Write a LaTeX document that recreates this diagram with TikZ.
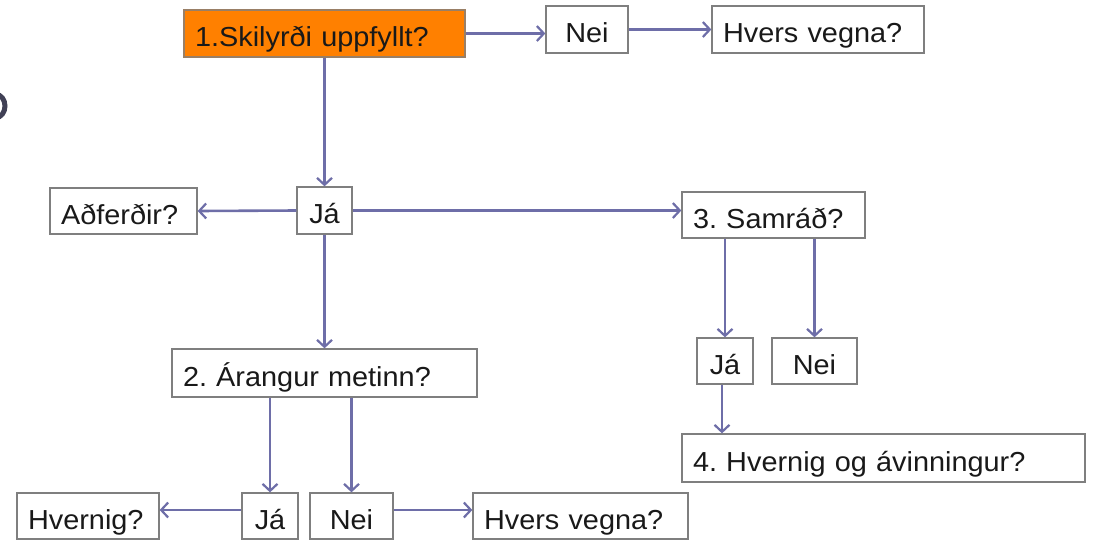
\documentclass[tikz,border=0pt]{standalone}
\usepackage{fontspec}
\setmainfont{Liberation Sans}[FakeStretch=1.05]
\usetikzlibrary{arrows.meta}
\definecolor{arrowc}{HTML}{6E6EA8}
\definecolor{boxc}{HTML}{7F7F7F}
\definecolor{orangec}{HTML}{FF8000}
\definecolor{fragc}{HTML}{404055}
\frenchspacing
\begin{document}
\begin{tikzpicture}[x=1pt,y=-1pt,
  box/.style={draw=boxc, line width=1.3pt, fill=white, inner xsep=11pt, inner ysep=0pt,
    font=\fontsize{27.5}{32}\selectfont, text=black!90, anchor=center, align=left,
    text height=26pt, text depth=0pt},
  cbox/.style={box, align=center, inner xsep=0pt},
  arr/.style={draw=arrowc, line width=2.6pt, -{Straight Barb[length=7pt,width=15pt,line width=2.2pt]}}]
\useasboundingbox (0,0) rectangle (1093,542);
% clipped fragment at left edge
\draw[fragc, line width=5pt] (-4,106) ellipse[x radius=9pt, y radius=11.5pt];
% nodes
\node[box, fill=orangec, draw=boxc!80!orangec, text width=259pt, minimum height=47pt] (n1) at (324.5,33.5) {1.Skilyrði uppfyllt?};
\node[cbox, text width=82pt, minimum height=47pt] (nei1) at (587,29.5) {Nei};
\node[box, text width=190pt, minimum height=47pt] (hv1) at (818,29.5) {Hvers vegna?};
\node[cbox, text width=55pt, minimum height=47pt] (ja1) at (324.5,210.5) {Já};
\node[box, text width=125pt, minimum height=46pt] (adf) at (123.5,211) {Aðferðir?};
\node[box, text width=161pt, minimum height=46pt] (sam) at (773.5,215) {3. Samráð?};
\node[cbox, text width=56pt, minimum height=46pt] (ja2) at (725,361) {Já};
\node[cbox, text width=85pt, minimum height=46pt] (nei2) at (814.5,361) {Nei};
\node[box, text width=283pt, minimum height=48pt] (arn) at (324.5,373) {2. Árangur metinn?};
\node[box, text width=381pt, minimum height=48pt] (hvao) at (883.5,458) {4. Hvernig og ávinningur?};
\node[cbox, text width=56pt, minimum height=46pt] (ja3) at (270,516) {Já};
\node[cbox, text width=83pt, minimum height=46pt] (nei3) at (351.5,516) {Nei};
\node[box, text width=120pt, minimum height=46pt] (hvn) at (88,516) {Hvernig?};
\node[box, text width=193pt, minimum height=46pt] (hv2) at (580.5,516) {Hvers vegna?};
% connectors
\draw[arr] (n1.east) -- (n1.east -| nei1.west);
\draw[arr] (nei1.east) -- (hv1.west);
\draw[arr] (n1.south) -- (ja1.north);
\draw[arr] (ja1.west) -- (adf.east);
\draw[arr] (ja1.east) -- (ja1.east -| sam.west);
\draw[arr] (ja1.south) -- (arn.north);
\draw[arr] (sam.south -| ja2.north) -- (ja2.north);
\draw[arr] (sam.south -| nei2.north) -- (nei2.north);
\draw[arr] ([xshift=-3pt]ja2.south) -- ([xshift=-3pt]ja2.south |- hvao.north);
\draw[arr] (arn.south -| ja3.north) -- (ja3.north);
\draw[arr] (arn.south -| nei3.north) -- (nei3.north);
\draw[arr] ([yshift=6pt]ja3.west) -- ([yshift=6pt]ja3.west -| hvn.east);
\draw[arr] ([yshift=6pt]nei3.east) -- ([yshift=6pt]nei3.east -| hv2.west);
\end{tikzpicture}
\end{document}
